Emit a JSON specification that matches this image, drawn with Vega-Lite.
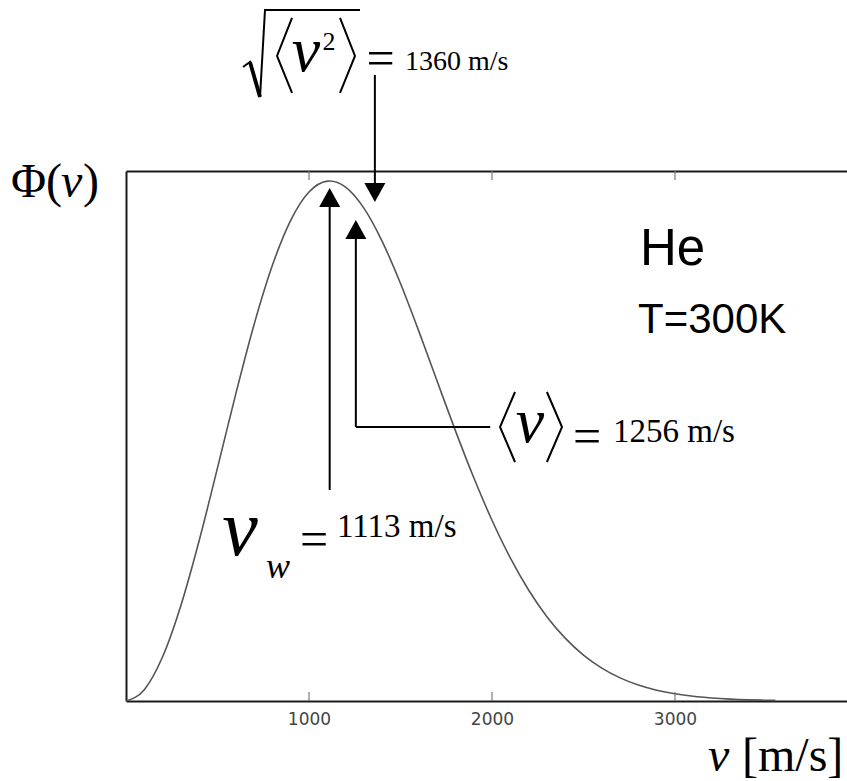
{
  "$schema": "https://vega.github.io/schema/vega-lite/v6.json",
  "width": 721,
  "height": 530,
  "autosize": {"type": "none"},
  "padding": {"left": 126, "top": 171, "right": 0, "bottom": 80},
  "background": "white",
  "config": {"view": {"stroke": null}, "axis": {"grid": false}},
  "resolve": {"axis": {"x": "independent", "y": "independent"}},
  "datasets": {
    "curve": [
      {"v": 0, "phi": 0}, {"v": 100, "phi": 0.0218}, {"v": 200, "phi": 0.085}, {"v": 300, "phi": 0.1837},
      {"v": 400, "phi": 0.3086}, {"v": 500, "phi": 0.4483}, {"v": 600, "phi": 0.5907}, {"v": 700, "phi": 0.724},
      {"v": 800, "phi": 0.8378}, {"v": 900, "phi": 0.9243}, {"v": 1000, "phi": 0.9788}, {"v": 1100, "phi": 0.9997},
      {"v": 1113, "phi": 1.0}, {"v": 1200, "phi": 0.9882}, {"v": 1300, "phi": 0.9478}, {"v": 1400, "phi": 0.8839},
      {"v": 1500, "phi": 0.8029}, {"v": 1600, "phi": 0.7113}, {"v": 1700, "phi": 0.6152}, {"v": 1800, "phi": 0.5199},
      {"v": 1900, "phi": 0.4297}, {"v": 2000, "phi": 0.3476}, {"v": 2100, "phi": 0.2752}, {"v": 2200, "phi": 0.2135},
      {"v": 2300, "phi": 0.1622}, {"v": 2400, "phi": 0.1209}, {"v": 2500, "phi": 0.0883}, {"v": 2600, "phi": 0.0633},
      {"v": 2700, "phi": 0.0445}, {"v": 2800, "phi": 0.0307}, {"v": 2900, "phi": 0.0208}, {"v": 3000, "phi": 0.0138},
      {"v": 3100, "phi": 0.009}, {"v": 3200, "phi": 0.0058}, {"v": 3300, "phi": 0.0036}, {"v": 3400, "phi": 0.0022},
      {"v": 3500, "phi": 0.0014}, {"v": 3550, "phi": 0.0011}
    ],
    "ticks": [
      {"x": 1000, "y": 0, "y2": 0.0173},
      {"x": 2000, "y": 0, "y2": 0.0173},
      {"x": 3000, "y": 0, "y2": 0.0173},
      {"x": 1000, "y": 1.0192, "y2": 1.0019},
      {"x": 2000, "y": 1.0192, "y2": 1.0019},
      {"x": 3000, "y": 1.0192, "y2": 1.0019}
    ],
    "arrows": [
      {"x": 1113, "x2": 1113, "y": 0.95, "y2": 0.4058},
      {"x": 1256, "x2": 1256, "y": 0.8904, "y2": 0.5269},
      {"x": 1256, "x2": 1990, "y": 0.5269, "y2": 0.5269},
      {"x": 1360, "x2": 1360, "y": 1.2038, "y2": 0.9942}
    ],
    "heads": [
      {"x": 1113, "y": 0.9865, "dir": "up"},
      {"x": 1256, "y": 0.925, "dir": "up"},
      {"x": 1360, "y": 0.9596, "dir": "down"}
    ],
    "strokes": [
      {"g": "radical", "o": 0, "x": 639.4, "y": 1.2192},
      {"g": "radical", "o": 1, "x": 677.6, "y": 1.2288},
      {"g": "radical", "o": 2, "x": 732.3, "y": 1.1615},
      {"g": "radical", "o": 3, "x": 759.6, "y": 1.3288},
      {"g": "radical", "o": 4, "x": 1278.8, "y": 1.3288},
      {"g": "lt1", "o": 0, "x": 907.2, "y": 1.3135},
      {"g": "lt1", "o": 1, "x": 825.2, "y": 1.2404},
      {"g": "lt1", "o": 2, "x": 907.2, "y": 1.1692},
      {"g": "gt1", "o": 0, "x": 1169.5, "y": 1.3135},
      {"g": "gt1", "o": 1, "x": 1251.4, "y": 1.2404},
      {"g": "gt1", "o": 2, "x": 1169.5, "y": 1.1692},
      {"g": "lt2", "o": 0, "x": 2125.8, "y": 0.5942},
      {"g": "lt2", "o": 1, "x": 2043.8, "y": 0.5269},
      {"g": "lt2", "o": 2, "x": 2125.8, "y": 0.4596},
      {"g": "gt2", "o": 0, "x": 2300.1, "y": 0.5942},
      {"g": "gt2", "o": 1, "x": 2382.6, "y": 0.5269},
      {"g": "gt2", "o": 2, "x": 2300.1, "y": 0.4596}
    ]
  },
  "layer": [
    {
      "data": {"name": "curve"},
      "mark": {"type": "line", "interpolate": "monotone", "stroke": "#555555", "strokeWidth": 1.6},
      "encoding": {
        "x": {"field": "v", "type": "quantitative",
          "scale": {"domain": [0, 3940], "nice": false, "zero": false},
          "axis": {"orient": "bottom", "values": [1000, 2000, 3000], "format": "d", "title": null,
            "domainColor": "#1a1a1a", "domainWidth": 2, "ticks": false,
            "labelFont": "DejaVu Sans", "labelFontSize": 17, "labelColor": "#444444", "labelPadding": 10}},
        "y": {"field": "phi", "type": "quantitative",
          "scale": {"domain": [0, 1.0192], "nice": false, "zero": false},
          "axis": {"title": null, "labels": false, "ticks": false, "domainColor": "#1a1a1a", "domainWidth": 2}}
      }
    },
    {
      "data": {"name": "ticks"},
      "mark": {"type": "rule", "stroke": "#777777", "strokeWidth": 1.2},
      "encoding": {
        "x": {"field": "x", "type": "quantitative",
          "scale": {"domain": [0, 3940], "nice": false, "zero": false},
          "axis": {"orient": "top", "values": [1000, 2000, 3000], "title": null, "labels": false, "ticks": false,
            "domainColor": "#1a1a1a", "domainWidth": 2}},
        "y": {"field": "y", "type": "quantitative", "scale": {"domain": [0, 1.0192], "nice": false, "zero": false}, "axis": null},
        "y2": {"field": "y2"}
      }
    },
    {
      "data": {"name": "arrows"},
      "mark": {"type": "rule", "stroke": "black", "strokeWidth": 2},
      "encoding": {
        "x": {"field": "x", "type": "quantitative", "scale": {"domain": [0, 3940], "nice": false, "zero": false}, "axis": null},
        "x2": {"field": "x2"},
        "y": {"field": "y", "type": "quantitative", "scale": {"domain": [0, 1.0192], "nice": false, "zero": false}, "axis": null},
        "y2": {"field": "y2"}
      }
    },
    {
      "data": {"name": "heads"},
      "transform": [{"filter": "datum.dir === 'up'"}],
      "mark": {"type": "point", "shape": "M0,0L-1,1.8L1,1.8Z", "size": 441, "filled": true, "fill": "black", "stroke": null, "opacity": 1},
      "encoding": {
        "x": {"field": "x", "type": "quantitative", "scale": {"domain": [0, 3940], "nice": false, "zero": false}, "axis": null},
        "y": {"field": "y", "type": "quantitative", "scale": {"domain": [0, 1.0192], "nice": false, "zero": false}, "axis": null}
      }
    },
    {
      "data": {"name": "heads"},
      "transform": [{"filter": "datum.dir === 'down'"}],
      "mark": {"type": "point", "shape": "M0,0L-1,-1.8L1,-1.8Z", "size": 441, "filled": true, "fill": "black", "stroke": null, "opacity": 1},
      "encoding": {
        "x": {"field": "x", "type": "quantitative", "scale": {"domain": [0, 3940], "nice": false, "zero": false}, "axis": null},
        "y": {"field": "y", "type": "quantitative", "scale": {"domain": [0, 1.0192], "nice": false, "zero": false}, "axis": null}
      }
    },
    {
      "data": {"name": "strokes"},
      "mark": {"type": "line", "stroke": "black", "strokeWidth": 2, "strokeJoin": "miter"},
      "encoding": {
        "x": {"field": "x", "type": "quantitative", "scale": {"domain": [0, 3940], "nice": false, "zero": false}, "axis": null},
        "y": {"field": "y", "type": "quantitative", "scale": {"domain": [0, 1.0192], "nice": false, "zero": false}, "axis": null},
        "detail": {"field": "g"},
        "order": {"field": "o"}
      }
    },
    {
      "data": {"values": [{"x": 677.6, "y": 1.2288, "x2": 732.3, "y2": 1.1615}]},
      "mark": {"type": "rule", "stroke": "black", "strokeWidth": 3.8},
      "encoding": {
        "x": {"field": "x", "type": "quantitative", "scale": {"domain": [0, 3940], "nice": false, "zero": false}, "axis": null},
        "y": {"field": "y", "type": "quantitative", "scale": {"domain": [0, 1.0192], "nice": false, "zero": false}, "axis": null},
        "x2": {"field": "x2"},
        "y2": {"field": "y2"}
      }
    },
    {
      "data": {"values": [
        {"x": -628.4, "y": 0.9692, "t": "Φ("},
        {"x": -235, "y": 0.9692, "t": ")"},
        {"x": 3366.3, "y": -0.1346, "t": "[m/s]"}
      ]},
      "mark": {"type": "text", "font": "Liberation Serif", "fontSize": 48, "align": "left", "baseline": "alphabetic", "color": "black"},
      "encoding": {
        "x": {"field": "x", "type": "quantitative", "scale": {"domain": [0, 3940], "nice": false, "zero": false}, "axis": null},
        "y": {"field": "y", "type": "quantitative", "scale": {"domain": [0, 1.0192], "nice": false, "zero": false}, "axis": null},
        "text": {"field": "t"}
      }
    },
    {
      "data": {"values": [
        {"x": -355.2, "y": 0.9692, "t": "v"},
        {"x": 3180.5, "y": -0.1346, "t": "v"}
      ]},
      "mark": {"type": "text", "font": "Liberation Serif", "fontStyle": "italic", "fontSize": 48, "align": "left", "baseline": "alphabetic", "color": "black"},
      "encoding": {
        "x": {"field": "x", "type": "quantitative", "scale": {"domain": [0, 3940], "nice": false, "zero": false}, "axis": null},
        "y": {"field": "y", "type": "quantitative", "scale": {"domain": [0, 1.0192], "nice": false, "zero": false}, "axis": null},
        "text": {"field": "t"}
      }
    },
    {
      "data": {"values": [
        {"x": 983.7, "y": 1.2115, "t": "v"},
        {"x": 2207.8, "y": 0.4981, "t": "v"}
      ]},
      "mark": {"type": "text", "font": "Liberation Serif", "fontStyle": "italic", "fontSize": 64, "align": "center", "baseline": "alphabetic", "color": "black"},
      "encoding": {
        "x": {"field": "x", "type": "quantitative", "scale": {"domain": [0, 3940], "nice": false, "zero": false}, "axis": null},
        "y": {"field": "y", "type": "quantitative", "scale": {"domain": [0, 1.0192], "nice": false, "zero": false}, "axis": null},
        "text": {"field": "t"}
      }
    },
    {
      "data": {"values": [{"x": 623, "y": 0.2808, "t": "v"}]},
      "mark": {"type": "text", "font": "Liberation Serif", "fontStyle": "italic", "fontSize": 80, "align": "center", "baseline": "alphabetic", "color": "black"},
      "encoding": {
        "x": {"field": "x", "type": "quantitative", "scale": {"domain": [0, 3940], "nice": false, "zero": false}, "axis": null},
        "y": {"field": "y", "type": "quantitative", "scale": {"domain": [0, 1.0192], "nice": false, "zero": false}, "axis": null},
        "text": {"field": "t"}
      }
    },
    {
      "data": {"values": [{"x": 765.1, "y": 0.2365, "t": "w"}]},
      "mark": {"type": "text", "font": "Liberation Serif", "fontStyle": "italic", "fontSize": 36, "align": "left", "baseline": "alphabetic", "color": "black"},
      "encoding": {
        "x": {"field": "x", "type": "quantitative", "scale": {"domain": [0, 3940], "nice": false, "zero": false}, "axis": null},
        "y": {"field": "y", "type": "quantitative", "scale": {"domain": [0, 1.0192], "nice": false, "zero": false}, "axis": null},
        "text": {"field": "t"}
      }
    },
    {
      "data": {"values": [{"x": 1109.4, "y": 1.2519, "t": "2"}]},
      "mark": {"type": "text", "font": "Liberation Serif", "fontSize": 26, "align": "center", "baseline": "alphabetic", "color": "black"},
      "encoding": {
        "x": {"field": "x", "type": "quantitative", "scale": {"domain": [0, 3940], "nice": false, "zero": false}, "axis": null},
        "y": {"field": "y", "type": "quantitative", "scale": {"domain": [0, 1.0192], "nice": false, "zero": false}, "axis": null},
        "text": {"field": "t"}
      }
    },
    {
      "data": {"values": [
        {"x": 1390.8, "y": 1.2038, "t": "="},
        {"x": 2519.3, "y": 0.4769, "t": "="},
        {"x": 1027.4, "y": 0.2788, "t": "="}
      ]},
      "mark": {"type": "text", "font": "Liberation Serif", "fontSize": 50, "align": "center", "baseline": "alphabetic", "color": "black"},
      "encoding": {
        "x": {"field": "x", "type": "quantitative", "scale": {"domain": [0, 3940], "nice": false, "zero": false}, "axis": null},
        "y": {"field": "y", "type": "quantitative", "scale": {"domain": [0, 1.0192], "nice": false, "zero": false}, "axis": null},
        "text": {"field": "t"}
      }
    },
    {
      "data": {"values": [{"x": 1524.7, "y": 1.2135, "t": "1360 m/s"}]},
      "mark": {"type": "text", "font": "Liberation Serif", "fontSize": 28, "align": "left", "baseline": "alphabetic", "color": "black"},
      "encoding": {
        "x": {"field": "x", "type": "quantitative", "scale": {"domain": [0, 3940], "nice": false, "zero": false}, "axis": null},
        "y": {"field": "y", "type": "quantitative", "scale": {"domain": [0, 1.0192], "nice": false, "zero": false}, "axis": null},
        "text": {"field": "t"}
      }
    },
    {
      "data": {"values": [
        {"x": 2661.4, "y": 0.4981, "t": "1256 m/s"},
        {"x": 1153.1, "y": 0.3154, "t": "1113 m/s"}
      ]},
      "mark": {"type": "text", "font": "Liberation Serif", "fontSize": 33, "align": "left", "baseline": "alphabetic", "color": "black"},
      "encoding": {
        "x": {"field": "x", "type": "quantitative", "scale": {"domain": [0, 3940], "nice": false, "zero": false}, "axis": null},
        "y": {"field": "y", "type": "quantitative", "scale": {"domain": [0, 1.0192], "nice": false, "zero": false}, "axis": null},
        "text": {"field": "t"}
      }
    },
    {
      "data": {"values": [{"x": 2808.9, "y": 0.8385, "t": "He"}]},
      "mark": {"type": "text", "font": "Liberation Sans", "fontSize": 51, "align": "left", "baseline": "alphabetic", "color": "black"},
      "encoding": {
        "x": {"field": "x", "type": "quantitative", "scale": {"domain": [0, 3940], "nice": false, "zero": false}, "axis": null},
        "y": {"field": "y", "type": "quantitative", "scale": {"domain": [0, 1.0192], "nice": false, "zero": false}, "axis": null},
        "text": {"field": "t"}
      }
    },
    {
      "data": {"values": [{"x": 2797.9, "y": 0.7077, "t": "T=300K"}]},
      "mark": {"type": "text", "font": "Liberation Sans", "fontSize": 42, "align": "left", "baseline": "alphabetic", "color": "black"},
      "encoding": {
        "x": {"field": "x", "type": "quantitative", "scale": {"domain": [0, 3940], "nice": false, "zero": false}, "axis": null},
        "y": {"field": "y", "type": "quantitative", "scale": {"domain": [0, 1.0192], "nice": false, "zero": false}, "axis": null},
        "text": {"field": "t"}
      }
    }
  ]
}
